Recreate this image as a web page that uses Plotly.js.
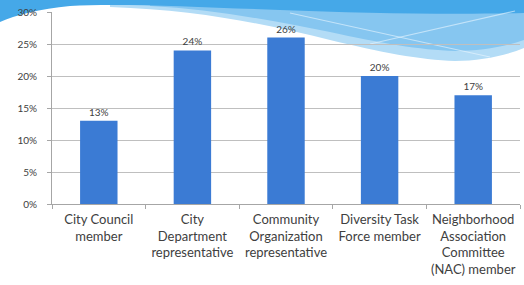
<!DOCTYPE html>
<html>
<head>
<meta charset="utf-8">
<script src="https://cdn.plot.ly/plotly-3.0.1.min.js"></script>
<style>html,body{margin:0;padding:0;background:#fff;}#chart{width:524px;height:285px;}</style>
</head>
<body>
<div id="chart"></div>
<script>
const categories = [
  "City Council<br>member",
  "City<br>Department<br>representative",
  "Community<br>Organization<br>representative",
  "Diversity Task<br>Force member",
  "Neighborhood<br>Association<br>Committee<br>(NAC) member"
];
const values = [13, 24, 26, 20, 17];
const valueLabels = ["13%", "24%", "26%", "20%", "17%"];
const yTickVals = [0, 5, 10, 15, 20, 25, 30];
const yTickText = ["0%", "5%", "10%", "15%", "20%", "25%", "30%"];

// plot area in pixels (for decorative background conversion)
const W = 524, H = 285;
const L = 52, R = 4, T = 12, B = 81;
const pw = W - L - R, ph = H - T - B;
function px(x){ return ((x - L) / pw).toFixed(4); }
function py(y){ return ((H - B - y) / ph).toFixed(4); }
function path(cmds, close){
  const s = cmds.map(c => {
    const nums = c.slice(1);
    const pts = [];
    for (let i = 0; i < nums.length; i += 2) pts.push(px(nums[i]) + ',' + py(nums[i+1]));
    return c[0] + ' ' + pts.join(' ');
  }).join(' ');
  return close === false ? s : s + ' Z';
}
const lightWave = path([
  ['M', 110, 0],
  ['L', 524, 0],
  ['L', 524, 48],
  ['C', 505, 56, 480, 61, 455, 61],
  ['C', 420, 60, 380, 52, 330, 40],
  ['C', 270, 25, 200, 10, 110, 7]
]);
const midWave = path([
  ['M', 150, 0],
  ['L', 524, 0],
  ['L', 524, 40],
  ['C', 505, 47, 480, 51, 455, 51],
  ['C', 420, 50, 380, 43, 330, 32],
  ['C', 270, 20, 210, 9, 150, 6]
]);
const darkWave = path([
  ['M', 0, 0],
  ['L', 524, 0],
  ['L', 524, 13],
  ['C', 450, 15, 360, 13, 280, 10],
  ['C', 200, 7, 120, 3, 70, 6],
  ['C', 40, 9, 15, 15, 0, 22]
]);
const line1 = path([['M', 290, 13], ['L', 490, 57]], false);
const line2 = path([['M', 370, 44], ['L', 515, 11]], false);

const trace = {
  type: 'bar',
  x: categories,
  y: values,
  text: valueLabels,
  textposition: 'outside',
  cliponaxis: false,
  textfont: {family: 'Lato, sans-serif', size: 10, color: '#404040'},
  marker: {color: '#3b7bd4'},
  hoverinfo: 'none'
};

const layout = {
  width: W, height: H,
  margin: {l: L, r: R, t: T, b: B, pad: 0},
  paper_bgcolor: 'rgba(0,0,0,0)',
  plot_bgcolor: 'rgba(0,0,0,0)',
  bargap: 0.6,
  showlegend: false,
  font: {family: 'Lato, sans-serif', color: '#404040'},
  xaxis: {
    type: 'category',
    tickangle: 0,
    tickfont: {family: 'Lato, sans-serif', size: 13, color: '#404040'},
    showline: true, linecolor: '#a6a6a6', linewidth: 1,
    ticks: 'outside', tickson: 'boundaries', ticklen: 4, tickcolor: '#a6a6a6',
    ticklabelstandoff: 3,
    showgrid: false, fixedrange: true
  },
  yaxis: {
    range: [0, 30],
    tickvals: yTickVals,
    ticktext: yTickText,
    tickfont: {family: 'Lato, sans-serif', size: 10, color: '#404040'},
    showline: true, linecolor: '#a6a6a6', linewidth: 1,
    ticks: 'outside', ticklen: 4, tickcolor: '#a6a6a6',
    ticklabelstandoff: 8,
    gridcolor: '#bfbfbf', gridwidth: 1,
    zeroline: false, fixedrange: true
  },
  shapes: [
    {type: 'path', xref: 'paper', yref: 'paper', layer: 'below', path: lightWave, fillcolor: '#b3dcf6', line: {width: 0}},
    {type: 'path', xref: 'paper', yref: 'paper', layer: 'below', path: midWave, fillcolor: '#86c6f0', line: {width: 0}},
    {type: 'path', xref: 'paper', yref: 'paper', layer: 'below', path: darkWave, fillcolor: '#45a8e8', line: {width: 0}},
    {type: 'path', xref: 'paper', yref: 'paper', layer: 'below', path: line1, line: {color: 'rgba(235,247,255,0.6)', width: 1.2}},
    {type: 'path', xref: 'paper', yref: 'paper', layer: 'below', path: line2, line: {color: 'rgba(235,247,255,0.6)', width: 1.2}}
  ]
};

Plotly.newPlot('chart', [trace], layout, {staticPlot: true, displayModeBar: false});
</script>
</body>
</html>
